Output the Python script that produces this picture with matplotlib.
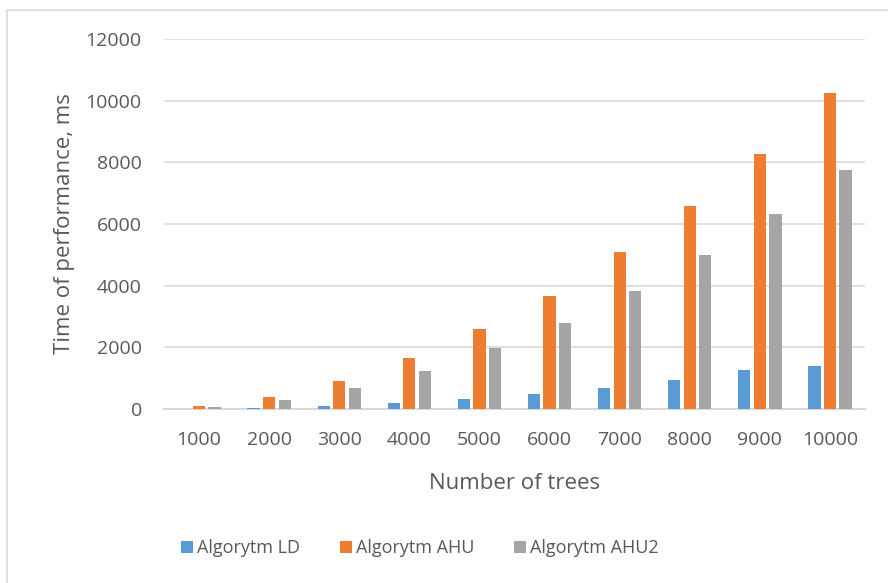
import numpy as np
import matplotlib.pyplot as plt
from matplotlib.patches import Rectangle

plt.rcParams['font.family'] = ['Open Sans', 'DejaVu Sans']

trees = ['1000', '2000', '3000', '4000', '5000', '6000', '7000', '8000', '9000', '10000']
ld = [10, 40, 110, 200, 330, 490, 670, 930, 1250, 1400]
ahu = [90, 380, 900, 1640, 2580, 3680, 5100, 6580, 8280, 10250]
ahu2 = [65, 300, 695, 1225, 1985, 2800, 3820, 5000, 6320, 7760]

series = [('Algorytm LD', ld, '#5B9BD5'),
          ('Algorytm AHU', ahu, '#ED7D31'),
          ('Algorytm AHU2', ahu2, '#A5A5A5')]

fig = plt.figure(figsize=(8.88, 5.83), dpi=100)
ax = fig.add_axes([164 / 888, 1 - 409 / 583, 701 / 888, 370 / 583])

x = np.arange(len(trees))
w = 0.175
step = 0.222
for i, (name, vals, col) in enumerate(series):
    ax.bar(x + (i - 1) * step, vals, width=w, color=col, label=name, zorder=3)

ax.set_xlim(-0.5, len(trees) - 0.5)
ax.set_ylim(0, 12000)
ax.set_yticks(range(0, 12001, 2000))
ax.set_xticks(x)
ax.set_xticklabels(trees)
ax.yaxis.grid(True, color='#d9d9d9', linewidth=1.2, zorder=0)
for s in ['top', 'right', 'left']:
    ax.spines[s].set_visible(False)
ax.spines['bottom'].set_color('#d9d9d9')
ax.spines['bottom'].set_linewidth(1.5)
ax.tick_params(length=0, labelsize=14, colors='#595959')
ax.tick_params(axis='x', pad=16)
ax.tick_params(axis='y', pad=16)

ax.set_xlabel('Number of trees', fontsize=16, color='#595959', labelpad=17)
ax.set_ylabel('Time of performance, ms', fontsize=16, color='#595959', labelpad=8)

fig.legend(loc='center', bbox_to_anchor=(420 / 888, 1 - 548 / 583), ncol=3,
           frameon=False, fontsize=13, labelcolor='#595959',
           handlelength=0.65, handleheight=0.65, handletextpad=0.25, columnspacing=2.2)

# chart area border
fig.patches.append(Rectangle((7 / 888, -0.1), 1.2, 1 - 10 / 583 + 0.1,
                             transform=fig.transFigure, fill=False,
                             edgecolor='#d9d9d9', linewidth=1.2))

fig.savefig('out.png', dpi=100)
